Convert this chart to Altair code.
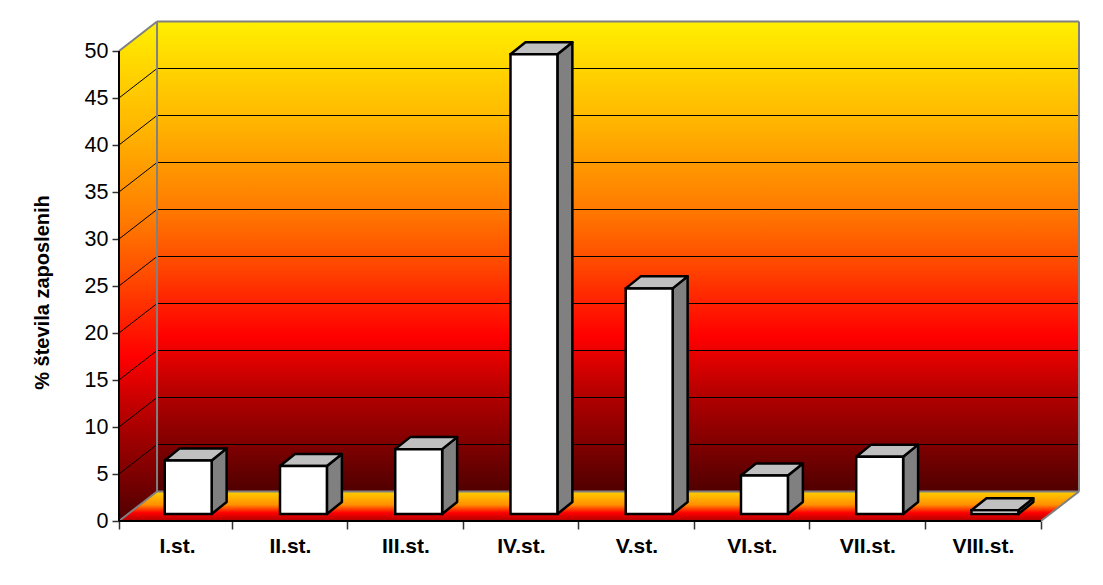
import altair as alt
import pandas as pd

# --- chart values
categories = ["I.st.", "II.st.", "III.st.", "IV.st.", "V.st.", "VI.st.", "VII.st.", "VIII.st."]
values = [5.7, 5.1, 6.9, 48.9, 24.0, 4.1, 6.1, 0.4]
y_ticks = list(range(0, 51, 5))
x_ticks = [0, 0.98, 1.982, 2.984, 3.986, 4.988, 5.99, 6.992, 8]
y_title = "% števila zaposlenih"

# --- pseudo-3D geometry, in data units
UX, UY = 115.3, 9.4          # pixels per data unit (used only to size the view)
DX, DY = 0.33, 3.138         # depth of the plot box
XMAX, VTOP = 8 + DX, 50 + DY
BAR_OFF, BAR_W = 0.397, 0.407
BAR_BASE = 0.745
BDX, BDY = 0.13, 1.28        # depth of each bar

WALL = [("#FFF000", 0), ("#FFD400", 0.1), ("#FFBA00", 0.2), ("#FF9A00", 0.3), ("#FF7A00", 0.4),
        ("#FF5000", 0.5), ("#FF2000", 0.6), ("#FF0000", 0.67), ("#EC0000", 0.7), ("#B00000", 0.8),
        ("#800000", 0.9), ("#500000", 1)]
FLOOR = [("#FFD000", 0), ("#FF9000", 0.45), ("#FF0000", 0.72), ("#B00000", 1)]


def grad(stops):
    return alt.Gradient(gradient="linear", x1=0, x2=0, y1=0, y2=1,
                        stops=[alt.GradientStop(color=c, offset=o) for c, o in stops])


names = "[" + ",".join("'%s'" % c for c in categories) + "]"
xs = alt.Scale(domain=[0, XMAX], nice=False, zero=False)
ys = alt.Scale(domain=[0, 499 / UY], nice=False, zero=False)
x_axis = alt.Axis(
    values=x_ticks, orient="bottom", domain=False, grid=False, tickSize=8, tickWidth=1.5, tickColor="#333333",
    labelExpr=names + "[round(datum.value)] || ''", labelOffset=58, labelPadding=6, labelFontSize=21,
    labelFontWeight="bold", labelFont="Liberation Sans", labelColor="#000000", labelOverlap=False,
    labelFlush=False, labelBound=False, labelAlign="center", title=None)
y_axis = alt.Axis(
    values=y_ticks, orient="left", domain=False, grid=False, tickSize=7, tickWidth=1.5, tickColor="#333333",
    labelPadding=4, labelFontSize=21.5, labelFont="Liberation Sans", labelColor="#000000", labelOverlap=False,
    labelBound=False, labelFlush=False, title=y_title, titleFont="Liberation Sans", titleFontSize=20,
    titleFontWeight="bold", titleColor="#000000", titleX=-67, titleY=270, titleAnchor="middle")
X = alt.X("x:Q", scale=xs, axis=x_axis)
Y = alt.Y("y:Q", scale=ys, axis=y_axis)
X_NS = alt.X("x:Q", scale=xs, axis=x_axis, stack=None)
Y_NS = alt.Y("y:Q", scale=ys, axis=y_axis, stack=None)

# back wall
back = alt.Chart(pd.DataFrame([{"x": DX, "x2": XMAX, "y": DY, "y2": VTOP}])).mark_rect(color=grad(WALL)).encode(
    x=X, x2="x2:Q", y=Y, y2="y2:Q")
# left wall
left = alt.Chart(pd.DataFrame([{"x": 0, "y": 0, "y2": 50}, {"x": DX, "y": DY, "y2": VTOP}])).mark_area(
    color=grad(WALL)).encode(x=X, y=Y_NS, y2="y2:Q")
# floor
floor = alt.Chart(pd.DataFrame([{"y": 0, "x": 0, "x2": 8}, {"y": DY, "x": DX, "x2": XMAX}])).mark_area(
    color=grad(FLOOR), orient="horizontal").encode(y=Y, x=X_NS, x2="x2:Q")

# gridlines
grid_rows = []
for v in y_ticks[1:-1]:
    grid_rows.append({"x": 0, "y": v, "x2": DX, "y2": v + DY})
    grid_rows.append({"x": DX, "y": v + DY, "x2": XMAX, "y2": v + DY})
grid = alt.Chart(pd.DataFrame(grid_rows)).mark_rule(color="#000000", strokeWidth=1).encode(
    x=X, x2="x2:Q", y=Y, y2="y2:Q")

# box edges
edge_rows = [
    {"x": 0, "y": 50, "x2": DX, "y2": VTOP},
    {"x": DX, "y": VTOP, "x2": XMAX, "y2": VTOP},
    {"x": XMAX, "y": VTOP, "x2": XMAX, "y2": DY},
    {"x": DX, "y": VTOP, "x2": DX, "y2": DY},
    {"x": DX, "y": DY, "x2": XMAX, "y2": DY},
    {"x": 0, "y": 0, "x2": DX, "y2": DY},
    {"x": 8, "y": 0, "x2": XMAX, "y2": DY},
]
edges = alt.Chart(pd.DataFrame(edge_rows)).mark_rule(color="#808080", strokeWidth=2).encode(
    x=X, x2="x2:Q", y=Y, y2="y2:Q")

# bars
front_rows, top_rows, side_rows = [], [], []
for i, v in enumerate(values):
    x0, x1 = i + BAR_OFF, i + BAR_OFF + BAR_W
    t = BAR_BASE + v
    front_rows.append({"x": x0, "x2": x1, "y": BAR_BASE, "y2": t})
    top_rows += [{"b": i, "y": t, "x": x0, "x2": x1}, {"b": i, "y": t + BDY, "x": x0 + BDX, "x2": x1 + BDX}]
    side_rows += [{"b": i, "x": x1, "y": BAR_BASE, "y2": t},
                  {"b": i, "x": x1 + BDX, "y": BAR_BASE + BDY, "y2": t + BDY}]

side = alt.Chart(pd.DataFrame(side_rows)).mark_area(
    color="#808080", stroke="#000000", strokeWidth=2.5, strokeJoin="round").encode(
    x=X, y=Y_NS, y2="y2:Q", detail="b:N")
top = alt.Chart(pd.DataFrame(top_rows)).mark_area(
    color="#C0C0C0", stroke="#000000", strokeWidth=2.5, strokeJoin="round", orient="horizontal").encode(
    y=Y, x=X_NS, x2="x2:Q", detail="b:N")
front = alt.Chart(pd.DataFrame(front_rows)).mark_rect(
    color="#FFFFFF", stroke="#000000", strokeWidth=2.5).encode(x=X, x2="x2:Q", y=Y, y2="y2:Q")

# black axis lines
axes = alt.Chart(pd.DataFrame([{"x": 0, "y": 0, "x2": 8, "y2": 0}, {"x": 0, "y": 0, "x2": 0, "y2": 50}])).mark_rule(
    color="#000000", strokeWidth=2).encode(x=X, x2="x2:Q", y=Y, y2="y2:Q")

chart = alt.layer(back, left, floor, grid, edges, side, top, front, axes).properties(
    width=round(XMAX * UX), height=499,
    padding={"left": 111, "top": 14, "right": 10, "bottom": 40},
    autosize=alt.AutoSizeParams(type="none"),
).configure_view(stroke=None)

chart.save("out.html", embed_options={"renderer": "svg", "actions": False})
